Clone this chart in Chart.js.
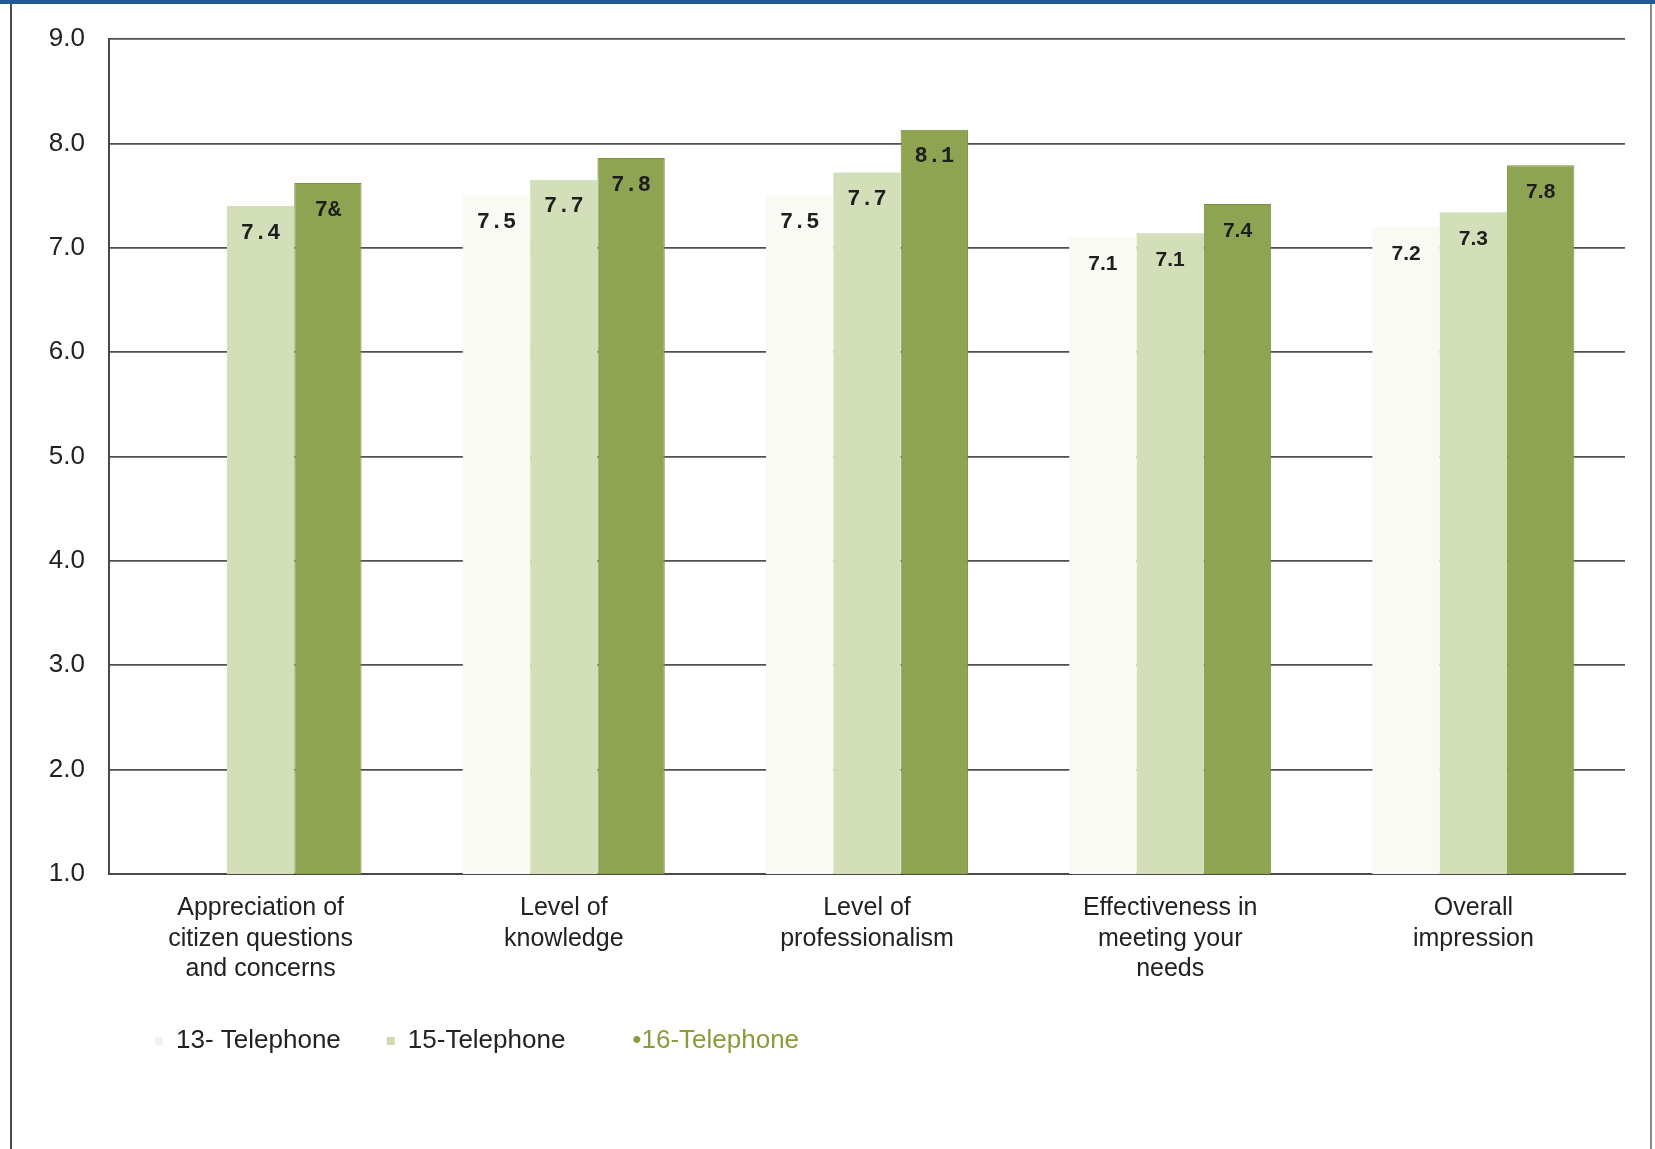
<!DOCTYPE html>
<html>
<head>
<meta charset="utf-8">
<title>Telephone ratings</title>
<script src="https://cdn.jsdelivr.net/npm/chart.js@4.4.1/dist/chart.umd.min.js"></script>
<style>
  html, body { margin: 0; padding: 0; background: #ffffff; }
  #page { position: relative; width: 1655px; height: 1149px; overflow: hidden; }
  #band { position: absolute; left: 0; top: 0; width: 1655px; height: 4px; background: #1d5a96; }
  #leftLine { position: absolute; left: 10px; top: 4px; width: 2px; height: 1145px; background: #4d4d4d; }
  #rightLine { position: absolute; left: 1650px; top: 4px; width: 2px; height: 1145px; background: #8a8a8a; }
  #wrap { position: absolute; left: 12px; top: 5px; width: 1636px; height: 1144px; }
</style>
</head>
<body>
<div id="page">
  <div id="band"></div>
  <div id="leftLine"></div>
  <div id="rightLine"></div>
  <div id="wrap"><canvas id="ratingChart"></canvas></div>
</div>
<script>
// Categories (multi-line axis labels)
const categories = [
    ['Appreciation of', 'citizen questions', 'and concerns'],
    ['Level of', 'knowledge'],
    ['Level of', 'professionalism'],
    ['Effectiveness in', 'meeting your', 'needs'],
    ['Overall', 'impression']
];

const seriesNames = ['13- Telephone', '15-Telephone', '•16-Telephone'];

// Values
const values13 = [null, 7.5, 7.5, 7.1, 7.2];
const values15 = [7.4, 7.65, 7.72, 7.14, 7.34];
const values16 = [7.62, 7.86, 8.13, 7.42, 7.79];

// Printed value labels (as they appear on the scan)
const labels13 = ['', '7.5', '7.5', '7.1', '7.2'];
const labels15 = ['7.4', '7.7', '7.7', '7.1', '7.3'];
const labels16 = ['7&', '7.8', '8.1', '7.4', '7.8'];

const yTicks = [1, 2, 3, 4, 5, 6, 7, 8, 9];

const barColors = ['#f9faf3', '#d3dfb8', '#8fa452'];
const legendBoxColors = ['#f3f4ec', '#cfdbb0', 'rgba(0,0,0,0)'];
const legendTextColors = ['#222222', '#222222', '#8a9c3c'];
const valueLabels = [labels13, labels15, labels16];

// Draws the value text inside the top of each bar
const barValueLabels = {
    id: 'barValueLabels',
    afterDatasetsDraw(chart) {
        const ctx = chart.ctx;
        ctx.save();
        ctx.textAlign = 'center';
        ctx.textBaseline = 'middle';
        ctx.fillStyle = '#1e1e1e';
        chart.data.datasets.forEach((ds, i) => {
            chart.getDatasetMeta(i).data.forEach((bar, j) => {
                const text = valueLabels[i][j];
                if (!text) return;
                ctx.font = j < 3 ? 'bold 22px "Liberation Mono"' : 'bold 21px "Liberation Sans"';
                ctx.fillText(text, bar.x, bar.y + 27);
            });
        });
        ctx.restore();
    }
};

const ctx = document.getElementById('ratingChart').getContext('2d');

new Chart(ctx, {
    type: 'bar',
    data: {
        labels: categories,
        datasets: [
            { label: seriesNames[0], data: values13, backgroundColor: barColors[0] },
            { label: seriesNames[1], data: values15, backgroundColor: barColors[1] },
            { label: seriesNames[2], data: values16, backgroundColor: barColors[2], borderColor: '#7b8f3e', borderWidth: 1 }
        ]
    },
    options: {
        responsive: true,
        maintainAspectRatio: false,
        animation: false,
        datasets: {
            bar: {
                categoryPercentage: 0.666,
                barPercentage: 1.0
            }
        },
        layout: {
            padding: { left: 34, right: 23, top: 34, bottom: 85 }
        },
        plugins: {
            tooltip: { enabled: false },
            legend: {
                position: 'bottom',
                align: 'start',
                fullSize: false,
                labels: {
                    boxWidth: 8,
                    boxHeight: 8,
                    padding: 46,
                    color: '#222222',
                    font: { size: 26, family: "'Liberation Sans', Arial, sans-serif" },
                    generateLabels: () => seriesNames.map((name, i) => ({
                        text: name,
                        fillStyle: legendBoxColors[i],
                        strokeStyle: legendBoxColors[i],
                        lineWidth: 0,
                        fontColor: legendTextColors[i],
                        datasetIndex: i,
                        hidden: false
                    }))
                }
            }
        },
        scales: {
            x: {
                grid: { display: false },
                border: { display: true, color: '#4a4a4a', width: 2 },
                ticks: {
                    color: '#222222',
                    padding: 11,
                    maxRotation: 0,
                    autoSkip: false,
                    font: { size: 25, family: "'Liberation Sans', Arial, sans-serif", lineHeight: 1.22 }
                },
                afterFit: (scale) => { scale.height = 108; }
            },
            y: {
                min: yTicks[0],
                max: yTicks[yTicks.length - 1],
                afterBuildTicks: (scale) => { scale.ticks = yTicks.map(v => ({ value: v })); },
                grid: {
                    color: '#505050',
                    lineWidth: 1.7,
                    drawTicks: false
                },
                border: { display: true, color: '#4a4a4a', width: 2 },
                ticks: {
                    color: '#222222',
                    padding: 24,
                    font: { size: 26, family: "'Liberation Sans', Arial, sans-serif" },
                    callback: (v) => Number(v).toFixed(1)
                },
                afterFit: (scale) => {
                    scale.width = 63;
                    scale.paddingTop = 10;
                    scale.paddingBottom = 10;
                }
            }
        }
    },
    plugins: [barValueLabels]
});
</script>
</body>
</html>
